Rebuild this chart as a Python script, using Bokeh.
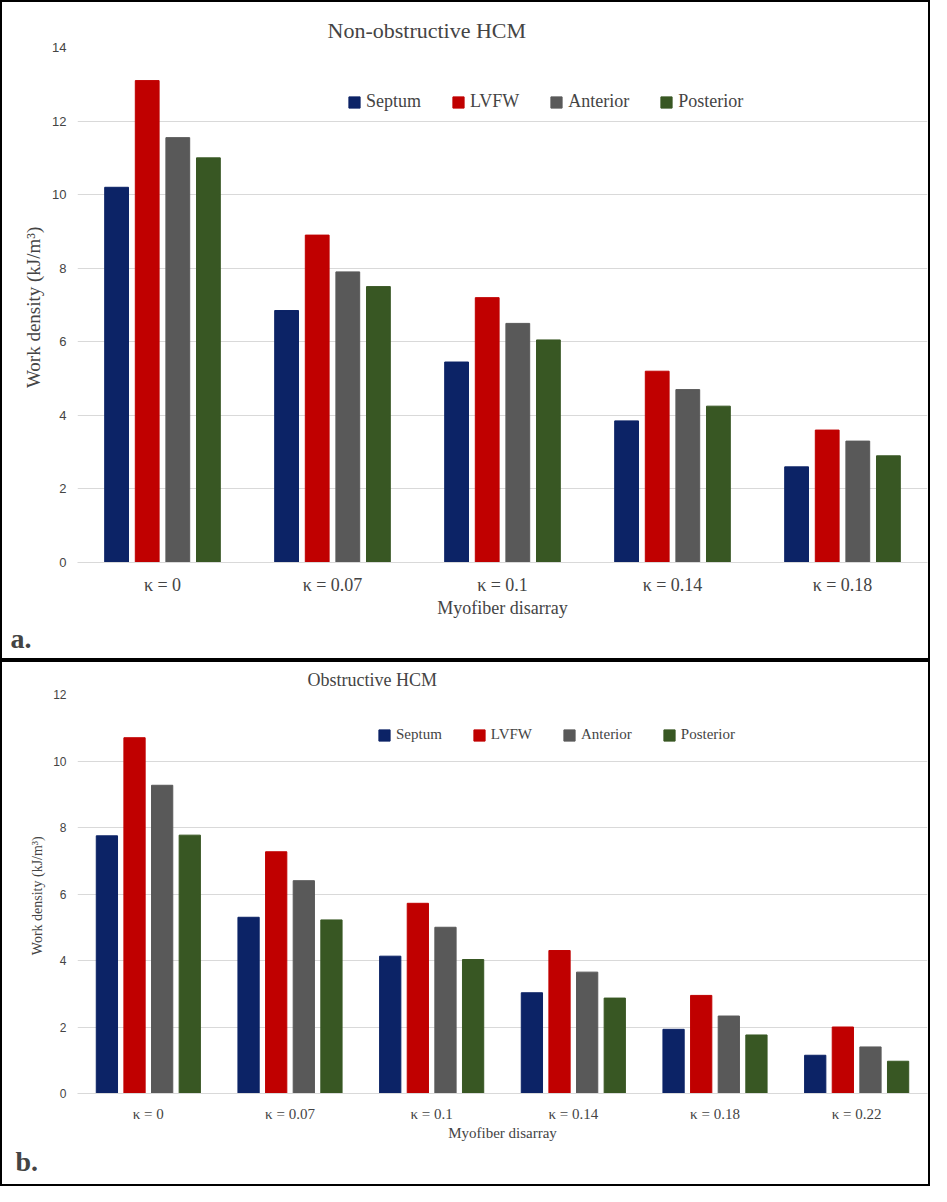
from bokeh.plotting import figure
from bokeh.models import FixedTicker, Legend, LegendItem, Title
from bokeh.layouts import column
from bokeh.embed import file_html
from bokeh.resources import INLINE

series = ["Septum", "LVFW", "Anterior", "Posterior"]
colors = ["#0c2366", "#c00000", "#595959", "#385723"]

cats_a = ["κ = 0", "κ = 0.07", "κ = 0.1", "κ = 0.14", "κ = 0.18"]
septum_a = [10.2, 6.85, 5.45, 3.85, 2.6]
lvfw_a = [13.1, 8.9, 7.2, 5.2, 3.6]
anterior_a = [11.55, 7.9, 6.5, 4.7, 3.3]
posterior_a = [11.0, 7.5, 6.05, 4.25, 2.9]

cats_b = ["κ = 0", "κ = 0.07", "κ = 0.1", "κ = 0.14", "κ = 0.18", "κ = 0.22"]
septum_b = [7.75, 5.3, 4.13, 3.03, 1.93, 1.15]
lvfw_b = [10.7, 7.27, 5.72, 4.3, 2.95, 2.0]
anterior_b = [9.27, 6.4, 5.0, 3.65, 2.33, 1.4]
posterior_b = [7.77, 5.22, 4.03, 2.87, 1.76, 0.97]

FONT = "Liberation Serif"

def panel(cats, data, ymax, title, tag, height, bw, off, fs, tfs, legx, legy, toff, top, bottom, left):
    n = len(cats)
    p = figure(width=930, height=height, x_range=(-0.5, n - 0.5), y_range=(0, ymax),
               output_backend="svg", toolbar_location=None,
               min_border_left=left, min_border_right=5, min_border_top=top, min_border_bottom=bottom,
               styles={"border": "2px solid black"})
    p.title.text = title
    p.title.align = "left"
    p.title.offset = toff
    p.title.text_font = FONT
    p.title.text_font_size = tfs
    p.title.text_font_style = "normal"
    items = []
    for i, (name, vals) in enumerate(zip(series, data)):
        xs = [g + (i - 1.5) * off for g in range(n)]
        r = p.vbar(x=xs, top=vals, width=bw, color=colors[i])
        items.append(LegendItem(label=name, renderers=[r]))
    leg = Legend(items=items, orientation="horizontal", location=(legx, legy),
                 label_text_font=FONT, label_text_font_size=fs, border_line_color=None,
                 background_fill_alpha=0, glyph_width=14, glyph_height=14, spacing=30)
    p.add_layout(leg)
    p.xaxis.ticker = FixedTicker(ticks=list(range(n)))
    p.xaxis.major_label_overrides = {i: c for i, c in enumerate(cats)}
    p.yaxis.ticker = FixedTicker(ticks=list(range(0, ymax + 1, 2)))
    for ax in (p.xaxis, p.yaxis):
        ax.axis_line_color = None
        ax.major_tick_line_color = None
        ax.minor_tick_line_color = None
        ax.major_label_text_font = FONT
        ax.major_label_text_font_size = fs
        ax.axis_label_text_font = FONT
        ax.axis_label_text_font_size = fs
        ax.axis_label_text_font_style = "normal"
    p.yaxis.major_label_text_font = "Liberation Sans"
    p.yaxis.major_label_text_font_size = "13px"
    p.xaxis.axis_line_color = "#d9d9d9"
    p.xaxis.axis_label = "Myofiber disarray"
    p.yaxis.axis_label = "Work density  (kJ/m³)"
    p.xaxis.axis_label_standoff = 0
    p.xaxis.major_label_standoff = 6
    p.xgrid.grid_line_color = None
    p.ygrid.grid_line_color = "#d9d9d9"
    p.outline_line_color = None
    p.add_layout(Title(text=tag, align="left", offset=-(left - 8), text_font=FONT,
                       text_font_size="28px", text_font_style="bold", standoff=0), "below")
    return p

pa = panel(cats_a, [septum_a, lvfw_a, anterior_a, posterior_a], 14, "Non-obstructive HCM", "a.",
           660, 0.14, 0.18, "18px", "22px", 270, 450, 250, 45, 100, 75)
pb = panel(cats_b, [septum_b, lvfw_b, anterior_b, posterior_b], 12, "Obstructive HCM", "b.",
           526, 0.15, 0.195, "15px", "18px", 300, 350, 230, 32, 95, 70)
pa.yaxis.axis_label_text_font_size = "19px"
pb.yaxis.major_label_text_font_size = "12px"
pb.yaxis.axis_label_text_font_size = "14px"

layout = column(pa, pb, spacing=0)
open("out.html", "w").write(file_html(layout, INLINE))
